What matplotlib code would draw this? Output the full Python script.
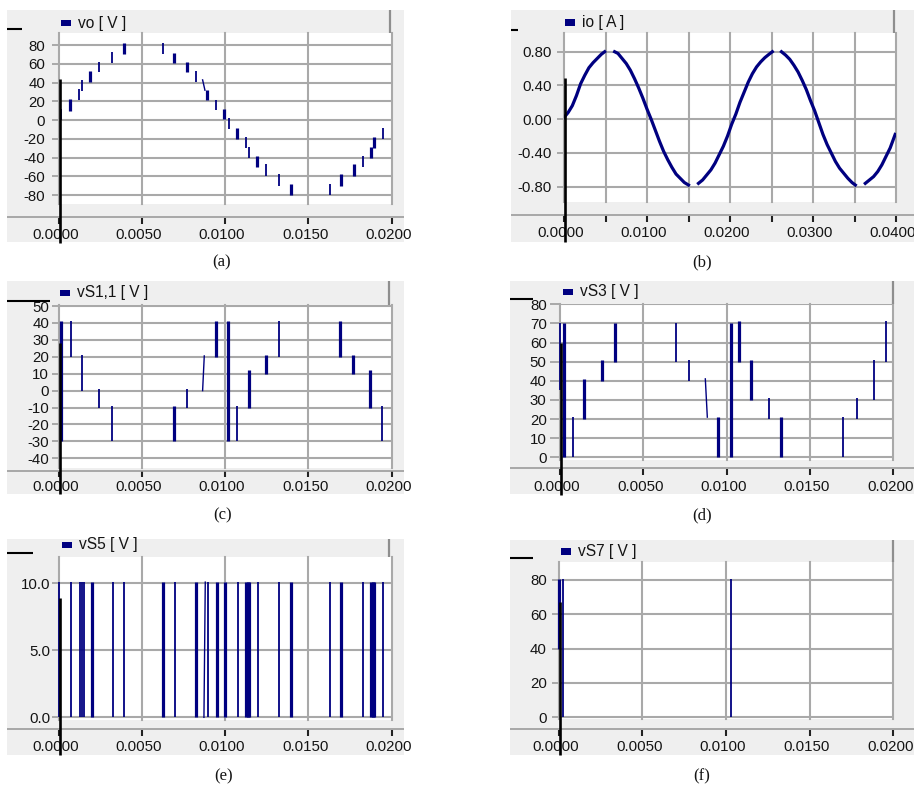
import numpy as np
import matplotlib.pyplot as plt
from matplotlib.lines import Line2D
from matplotlib.patches import Rectangle
from matplotlib.transforms import ScaledTranslation

W, H = 914, 787
NAVY = "#000080"
GRID = "#a9a9a9"
BG = "#efefef"
TXT = "#141414"

plt.rcParams["font.family"] = ["Liberation Sans", "DejaVu Sans"]

# -------------------------
# Data
# -------------------------

# (a) vo [V] - step transitions
vo_t = [0.00018, 0.00072, 0.00124, 0.00142, 0.00192, 0.00244, 0.00322, 0.00392,
        0.00627, 0.00693, 0.00773, 0.00823, 0.00893, 0.00945, 0.00995, 0.01021,
        0.01073, 0.01123, 0.01143, 0.01193, 0.01245, 0.01325, 0.01393, 0.01628,
        0.01696, 0.01774, 0.01826, 0.01876, 0.01896, 0.01946]
vo_lo = [0, 10, 21, 31, 41, 51, 61, 71, 71, 61, 51, 41, 21, 11, 1, -10,
         -20, -30, -40, -50, -60, -70, -80, -80, -70, -60, -50, -40, -30, -20]
vo_hi = [12, 23, 33, 43, 52, 62, 73, 82, 82, 72, 62, 52, 32, 22, 12, 2,
         -8, -18, -29, -38, -47, -58, -68, -68, -58, -47, -38, -29, -18, -8]
vo_thick = [0, 1, 0, 0, 1, 0, 0, 1, 0, 1, 1, 0, 1, 0, 1, 0,
            1, 0, 0, 1, 0, 0, 1, 0, 1, 1, 0, 1, 1, 0]
vo_ramps = [(0.00879, 32, 0.00865, 43)]

# (b) io [A]
io_t = [0.0000, 0.0005, 0.0010, 0.0015, 0.0020, 0.0025, 0.0030, 0.0035, 0.0040, 0.0045,
        0.0049, 0.0055,
        0.0061, 0.0065, 0.0070, 0.0075, 0.0080, 0.0085, 0.0090, 0.0095, 0.0100, 0.0105,
        0.0110, 0.0115, 0.0120, 0.0125, 0.0130, 0.0135, 0.0140, 0.0145, 0.0150, 0.0156,
        0.0162, 0.0167, 0.0172, 0.0177, 0.0182, 0.0187, 0.0192, 0.0197, 0.0202, 0.0207,
        0.0212, 0.0217, 0.0222, 0.0227, 0.0232, 0.0237, 0.0242, 0.0247, 0.0251, 0.0256,
        0.0262, 0.0267, 0.0272, 0.0277, 0.0282, 0.0287, 0.0292, 0.0297, 0.0302, 0.0307,
        0.0312, 0.0317, 0.0322, 0.0327, 0.0332, 0.0337, 0.0342, 0.0347, 0.0351, 0.0357,
        0.0363, 0.0368, 0.0373, 0.0378, 0.0383, 0.0388, 0.0393, 0.0399]
io_v = [0.02, 0.08, 0.16, 0.28, 0.42, 0.52, 0.61, 0.67, 0.72, 0.77,
        0.80, np.nan,
        0.80, 0.78, 0.72, 0.66, 0.58, 0.48, 0.37, 0.25, 0.12, 0.00,
        -0.13, -0.26, -0.38, -0.48, -0.57, -0.65, -0.70, -0.75, -0.78, np.nan,
        -0.76, -0.72, -0.66, -0.60, -0.52, -0.42, -0.32, -0.20, -0.06, 0.06,
        0.20, 0.32, 0.44, 0.54, 0.62, 0.68, 0.73, 0.77, 0.80, np.nan,
        0.80, 0.76, 0.71, 0.64, 0.56, 0.46, 0.35, 0.22, 0.10, -0.04,
        -0.18, -0.30, -0.40, -0.50, -0.58, -0.64, -0.70, -0.75, -0.78, np.nan,
        -0.76, -0.72, -0.68, -0.62, -0.54, -0.44, -0.34, -0.18]

# (c) vS1,1 [V]
s1_t = [0.00015, 0.00074, 0.00142, 0.00244, 0.00324, 0.00695, 0.00771, 0.00943, 0.01019,
        0.01073, 0.01143, 0.01245, 0.01321, 0.01692, 0.01770, 0.01872, 0.01944]
s1_lo = [-30, 20, 0, -10, -30, -30, -10, 20, -30, -30, -10, 10, 20, 20, 10, -10, -30]
s1_hi = [41, 41, 21, 1, -9, -9, 1, 41, 41, -9, 12, 21, 41, 41, 21, 12, -9]
s1_thick = [1, 0, 0, 0, 0, 1, 0, 1, 1, 0, 1, 1, 0, 1, 1, 1, 0]
s1_ramps = [(0.00865, 0, 0.00875, 20.5)]

# (d) vS3 [V]
s3_t = [0.00000, 0.00024, 0.00076, 0.00146, 0.00250, 0.00328, 0.00698, 0.00776, 0.00950,
        0.01026, 0.01072, 0.01146, 0.01252, 0.01328, 0.01700, 0.01780, 0.01882, 0.01954]
s3_lo = [35, 0, 0, 20, 40, 50, 50, 40, 0, 0, 50, 30, 20, 0, 0, 20, 30, 50]
s3_hi = [70, 70, 21, 41, 51, 70, 70, 51, 21, 70, 71, 51, 31, 21, 21, 31, 51, 71]
s3_thick = [0, 1, 0, 1, 1, 1, 0, 0, 1, 1, 1, 1, 0, 1, 0, 0, 0, 0]
s3_ramps = [(0.00884, 21, 0.00872, 41)]

# (e) vS5 [V]
s5_t = [0.00002, 0.00078, 0.00128, 0.00142, 0.00152, 0.00200, 0.00328, 0.00396, 0.00627,
        0.00697, 0.00825, 0.00897, 0.00949, 0.00999, 0.01075, 0.01125, 0.01135, 0.01145,
        0.01199, 0.01325, 0.01393, 0.01628, 0.01696, 0.01828, 0.01876, 0.01886, 0.01894,
        0.01946]
s5_lo = [0] * len(s5_t)
s5_hi = [10.1] * len(s5_t)
s5_thick = [0, 0, 0, 0, 0, 1, 0, 0, 1, 0, 1, 0, 1, 1, 0, 1, 1, 1,
            0, 0, 1, 0, 1, 0, 1, 1, 1, 0]
s5_ramps = [(0.00873, 0, 0.00881, 10.1)]

# (f) vS7 [V]
s7_t = [0.00000, 0.00024, 0.01028]
s7_lo = [40, 0, 0]
s7_hi = [80.5, 80.5, 80.5]
s7_thick = [1, 0, 0]

# -------------------------
# Helpers (pixel layout)
# -------------------------

fig = plt.figure(figsize=(W / 100, H / 100), dpi=100)
fig.patch.set_facecolor("white")

PT = 0.72  # points per pixel at 100 dpi


def rect(x0, y0, x1, y1):
    return [x0 / W, 1 - y1 / H, (x1 - x0) / W, (y1 - y0) / H]


def line_px(xs, ys, color, lw, z=5):
    fig.add_artist(Line2D([x / W for x in xs], [1 - y / H for y in ys],
                          color=color, lw=lw, transform=fig.transFigure,
                          zorder=z, solid_capstyle="butt"))


def box_px(x0, y0, x1, y1, color, z=-1):
    fig.add_artist(Rectangle((x0 / W, 1 - y1 / H), (x1 - x0) / W, (y1 - y0) / H,
                             transform=fig.transFigure, facecolor=color,
                             edgecolor="none", zorder=z))


def panel(p):
    bx0, by0, bx1, by1 = p["box"]
    px0, py0, px1, py1 = p["plot"]

    box_px(bx0, by0, bx1, by1, BG)
    # header right border
    line_px([p["hdr_r"], p["hdr_r"]], [by0, py0], "#8e8e8e", 1.6, z=1)
    # strip line
    line_px([bx0, bx1], [p["strip"], p["strip"]], "#9c9c9c", 1.2, z=1)

    ax = fig.add_axes(rect(px0, py0, px1, py1))
    ax.set_facecolor("white")
    for s in ax.spines.values():
        s.set_visible(False)
    ax.set_xlim(0, p["xmax"])
    ax.set_ylim(*p["ylim"])
    ax.set_xticks(p["grid_x"])
    ax.tick_params(axis="x", length=0, labelbottom=False)
    ax.set_yticks(p["yticks"])
    ax.set_yticklabels([p["yfmt"] % v for v in p["yticks"]])
    ax.tick_params(axis="y", length=p["ylen"] * PT, width=1.4, color=GRID,
                   pad=p["ypad"] * PT, labelsize=10.8, labelcolor=TXT)
    ax.grid(True, color=GRID, lw=1.5)
    for gl in ax.get_xgridlines():
        gl.set_clip_on(False)
    ax.set_axisbelow(True)

    # x tick strip
    sx = fig.add_axes(rect(px0, p["strip"] + 0.5, px1, p["strip"] + 6.5))
    sx.patch.set_visible(False)
    for s in sx.spines.values():
        s.set_visible(False)
    sx.set_xlim(0, p["xmax"])
    sx.set_ylim(0, 1)
    sx.set_yticks([])
    sx.set_xticks(p["xlab"])
    sx.set_xticklabels(["%.4f" % v for v in p["xlab"]])
    sx.set_xticks(p["grid_x"], minor=True)
    sx.tick_params(axis="x", which="both", direction="in", length=6 * PT,
                   width=1.5, color="#222222", pad=p["xpad"] * PT,
                   labelsize=10.8, labelcolor=TXT)
    shift = ScaledTranslation(-3 / 100, 0, fig.dpi_scale_trans)
    for lab in sx.get_xticklabels():
        lab.set_transform(lab.get_transform() + shift)

    # header legend
    hx, hy = p["hdr_txt"]
    box_px(hx - 17, hy - 3.5, hx - 7, hy + 3, NAVY, z=2)
    fig.text(hx / W, 1 - hy / H, p["label"], fontsize=11.2, color=TXT,
             ha="left", va="center")

    # cursor and marker dash
    cx, cy0, cy1 = p["cursor"]
    line_px([cx, cx], [cy0, cy1], "black", 1.9, z=6)
    dx0, dx1, dy = p["dash"]
    line_px([dx0, dx1], [dy, dy], "black", 1.5, z=6)

    capx, capy = p["cap"]
    fig.text(capx / W, 1 - capy / H, p["caption"], ha="center", va="center",
             family="Liberation Serif", fontsize=12, color=TXT)
    return ax


def bars(ax, t, lo, hi, thick, ramps=()):
    lws = [2.3 if k else 1.3 for k in thick]
    ax.vlines(t, lo, hi, colors=NAVY, linewidths=lws, clip_on=False, zorder=3)
    for t0, v0, t1, v1 in ramps:
        ax.plot([t0, t1], [v0, v1], color=NAVY, lw=1.0, clip_on=False, zorder=3)


GX20 = [0.0, 0.005, 0.010, 0.015, 0.020]
GX40 = [0.0, 0.005, 0.010, 0.015, 0.020, 0.025, 0.030, 0.035, 0.040]

# -------------------------
# Panels
# -------------------------

ax_a = panel(dict(box=(7, 10, 404, 242), plot=(58.5, 33, 391.7, 204), xmax=0.02,
                  ylim=(-89.6, 93.1), yticks=[-80, -60, -40, -20, 0, 20, 40, 60, 80],
                  yfmt="%d", ylen=7, ypad=6.5, grid_x=GX20, xlab=GX20, strip=217,
                  xpad=4.9, hdr_r=390, hdr_txt=(77.5, 23.3), label="vo [ V ]",
                  cursor=(59.5, 79, 243), dash=(7, 22, 29), cap=(221.7, 262.3),
                  caption="(a)"))
bars(ax_a, vo_t, vo_lo, vo_hi, vo_thick, vo_ramps)

ax_b = panel(dict(box=(511, 10, 914, 242), plot=(564, 33, 896, 202), xmax=0.04,
                  ylim=(-0.981, 1.022), yticks=[-0.8, -0.4, 0.0, 0.4, 0.8],
                  yfmt="%.2f", ylen=7, ypad=5, grid_x=GX40,
                  xlab=[0.0, 0.01, 0.02, 0.03, 0.04], strip=215, xpad=4.9,
                  hdr_r=894.3, hdr_txt=(582, 23), label="io [ A ]",
                  cursor=(564.5, 78, 242), dash=(511, 518.3, 30), cap=(701.7, 262.3),
                  caption="(b)"))
ax_b.plot(io_t, io_v, color=NAVY, lw=2.3, zorder=3)

ax_c = panel(dict(box=(7, 281, 404, 494.3), plot=(58.5, 305, 391.7, 468.3), xmax=0.02,
                  ylim=(-45.9, 50.6), yticks=[-40, -30, -20, -10, 0, 10, 20, 30, 40, 50],
                  yfmt="%d", ylen=7, ypad=2.5, grid_x=GX20, xlab=GX20, strip=470.5,
                  xpad=3.4, hdr_r=389.3, hdr_txt=(77, 293), label="vS1,1 [ V ]",
                  cursor=(59.5, 343, 494.3), dash=(7, 50, 300.7), cap=(222.7, 515),
                  caption="(c)"))
bars(ax_c, s1_t, s1_lo, s1_hi, s1_thick, s1_ramps)

ax_d = panel(dict(box=(510, 281, 914, 494.3), plot=(560, 303.5, 893.3, 460), xmax=0.02,
                  ylim=(-1.4, 80.4), yticks=[0, 10, 20, 30, 40, 50, 60, 70, 80],
                  yfmt="%d", ylen=10, ypad=3.3, grid_x=GX20, xlab=GX20, strip=468.3,
                  xpad=4.9, hdr_r=892.7, hdr_txt=(580, 292), label="vS3 [ V ]",
                  cursor=(561, 343, 495), dash=(510, 533.3, 299), cap=(701.7, 515),
                  caption="(d)"))
bars(ax_d, s3_t, s3_lo, s3_hi, s3_thick, s3_ramps)

ax_e = panel(dict(box=(7, 539, 404, 755), plot=(58.5, 556.7, 391.7, 720), xmax=0.02,
                  ylim=(-0.2, 12.0), yticks=[0.0, 5.0, 10.0], yfmt="%.1f", ylen=7,
                  ypad=0.8, grid_x=GX20, xlab=GX20, strip=729, xpad=4.4,
                  hdr_r=389.3, hdr_txt=(79, 545), label="vS5 [ V ]",
                  cursor=(59.5, 598, 755), dash=(7, 33.3, 552.7), cap=(224, 776.7),
                  caption="(e)"))
bars(ax_e, s5_t, s5_lo, s5_hi, s5_thick, s5_ramps)

ax_f = panel(dict(box=(510, 540, 914, 755), plot=(558.7, 562.3, 893.3, 719), xmax=0.02,
                  ylim=(-1.0, 90.3), yticks=[0, 20, 40, 60, 80], yfmt="%d", ylen=7,
                  ypad=5, grid_x=GX20, xlab=GX20, strip=729, xpad=4.4,
                  hdr_r=892.7, hdr_txt=(578.3, 551.7), label="vS7 [ V ]",
                  cursor=(560, 601.7, 755), dash=(510, 532.7, 558.3), cap=(701.7, 776.7),
                  caption="(f)"))
bars(ax_f, s7_t, s7_lo, s7_hi, s7_thick)

plt.savefig("out.png", dpi=100)
